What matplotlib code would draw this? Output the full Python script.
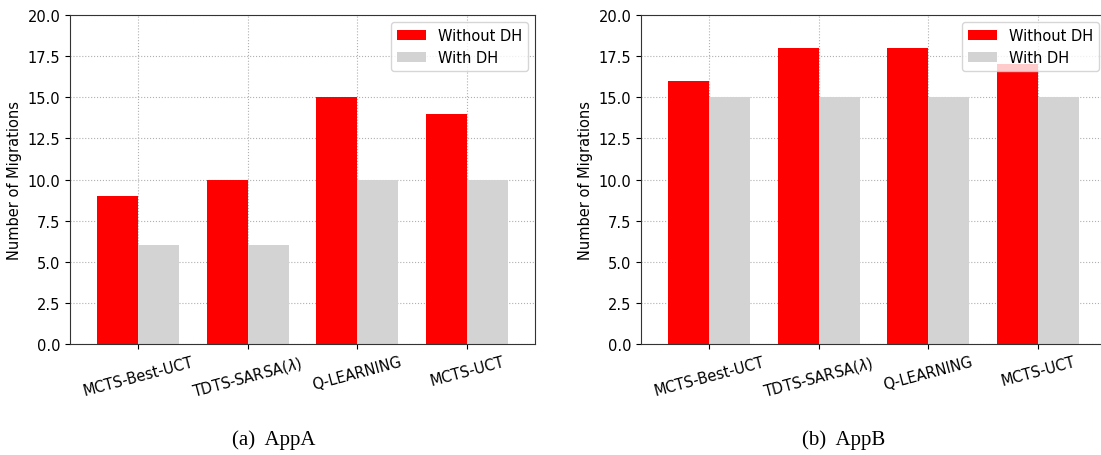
import numpy as np
import matplotlib
matplotlib.use("Agg")
import matplotlib.pyplot as plt

methods = ["MCTS-Best-UCT", r"TDTS-SARSA($\lambda$)", "Q-LEARNING", "MCTS-UCT"]

appa_without_dh = [9, 10, 15, 14]
appa_with_dh = [6, 6, 10, 10]

appb_without_dh = [16, 18, 18, 17]
appb_with_dh = [15, 15, 15, 15]

captions = ["(a)  AppA", "(b)  AppB"]

plt.rcParams["font.family"] = ["DejaVu Sans"]
plt.rcParams["font.size"] = 10.5


def draw_panel(ax, without_dh, with_dh):
    x = np.arange(len(methods))
    w = 0.375
    ax.bar(x - w / 2, without_dh, w, color="red", label="Without DH")
    ax.bar(x + w / 2, with_dh, w, color="lightgray", label="With DH")
    ax.set_axisbelow(True)
    ax.grid(True, linestyle=":", color="#b0b0b0", linewidth=0.8)
    ax.set_xticks(x)
    ax.set_xticklabels(methods, rotation=15)
    ax.set_xlim(-0.62, len(methods) - 1 + 0.62)
    ax.set_ylim(0, 20)
    ax.set_yticks(np.arange(0, 20.1, 2.5))
    ax.yaxis.set_major_formatter(matplotlib.ticker.FormatStrFormatter("%.1f"))
    ax.set_ylabel("Number of Migrations")
    ax.legend(loc="upper right", fontsize=10.5)
    for s in ax.spines.values():
        s.set_color("#333333")


fig = plt.figure(figsize=(11.01, 4.56), dpi=100)
ax1 = fig.add_axes([0.0636, 0.2434, 0.4223, 0.7215])
ax2 = fig.add_axes([0.5822, 0.2434, 0.4223, 0.7215])

draw_panel(ax1, appa_without_dh, appa_with_dh)
draw_panel(ax2, appb_without_dh, appb_with_dh)
# the right panel runs past the page edge, so its right border is not shown
ax2.spines["right"].set_visible(False)

fig.text(0.249, 0.035, captions[0], ha="center", va="center",
         family="Liberation Serif", fontsize=15)
fig.text(0.766, 0.035, captions[1], ha="center", va="center",
         family="Liberation Serif", fontsize=15)

fig.savefig("out.png", dpi=100)
